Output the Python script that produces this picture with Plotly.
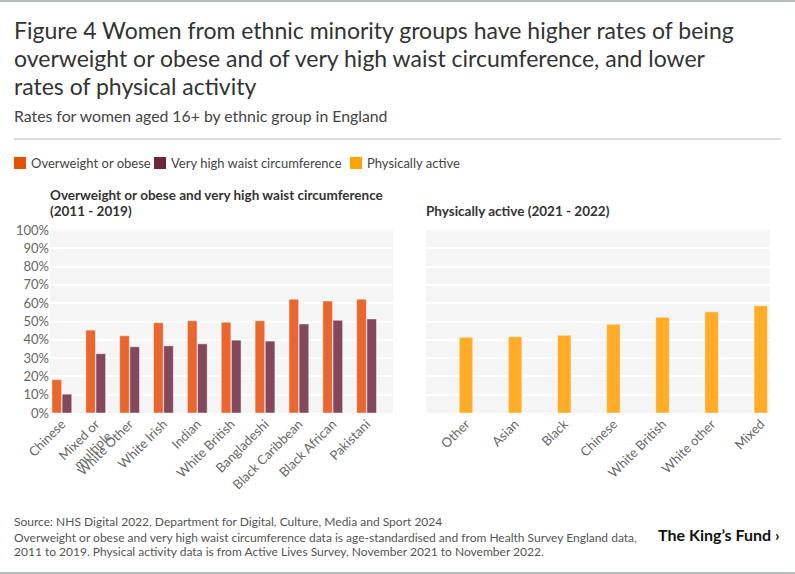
import plotly.graph_objects as go

W, H = 795, 574

# left panel: overweight / waist circumference (2011 - 2019)
groups_left = ['Chinese', 'Mixed or<br>multiple', 'White Other', 'White Irish', 'Indian',
               'White British', 'Bangladeshi', 'Black Caribbean', 'Black African', 'Pakistani']
overweight = [18.2, 45.3, 42.2, 49.3, 50.4, 49.6, 50.4, 62.2, 61.2, 62.2]
waist = [10.3, 32.4, 36.2, 36.7, 37.8, 39.8, 39.3, 48.6, 50.7, 51.4]

# right panel: physically active (2021 - 2022)
groups_right = ['Other', 'Asian', 'Black', 'Chinese', 'White British', 'White other', 'Mixed']
active = [41.4, 41.7, 42.5, 48.5, 52.3, 55.3, 58.6]

yticks = list(range(0, 101, 10))
ytick_labels = [f'{v}%' for v in yticks]

legend_names = ['Overweight or obese', 'Very high waist circumference', 'Physically active']
legend_colors = ['#e35205', '#6e2639', '#ffa300']

FONT = "Source Sans Pro, Lato, sans-serif"


def px(x):
    return x / W


def py(y):
    return 1 - y / H


fig = go.Figure()

fig.add_trace(go.Bar(
    x=groups_left, y=overweight, name=legend_names[0],
    marker=dict(color='#e9662e', line=dict(color='rgba(255,255,255,0.45)', width=1)),
    xaxis='x', yaxis='y'
))
fig.add_trace(go.Bar(
    x=groups_left, y=waist, name=legend_names[1],
    marker=dict(color='#84475c', line=dict(color='rgba(255,255,255,0.45)', width=1)),
    xaxis='x', yaxis='y'
))
fig.add_trace(go.Bar(
    x=groups_right, y=active, name=legend_names[2], width=0.275,
    marker=dict(color='#ffac28', line=dict(color='rgba(255,255,255,0.45)', width=1)),
    xaxis='x2', yaxis='y2'
))

axis_font = dict(family=FONT, size=13, color='#666666')

fig.update_layout(
    width=W, height=H,
    margin=dict(l=0, r=0, t=0, b=0, autoexpand=False),
    paper_bgcolor='white',
    plot_bgcolor='#f5f5f5',
    font=dict(family=FONT, color='#333333'),
    barmode='group', bargap=0.4, bargroupgap=0.05,
    showlegend=False,
    xaxis=dict(domain=[px(50), px(393)], range=[-0.35, 9.78], tickangle=-45,
               tickfont=axis_font, showgrid=False, showline=False, ticks='', automargin=False),
    yaxis=dict(domain=[py(413), py(230)], range=[0, 100], tickvals=yticks, ticktext=ytick_labels,
               tickfont=axis_font, gridcolor='white', gridwidth=2,
               zeroline=False, showline=False, anchor='x', automargin=False),
    xaxis2=dict(domain=[px(426), px(770)], range=[-0.814, 6.187], tickangle=-45,
                tickfont=axis_font, showgrid=False, showline=False, ticks='', anchor='y2',
                automargin=False),
    yaxis2=dict(domain=[py(413), py(230)], range=[0, 100], tickvals=yticks,
                showticklabels=False, gridcolor='white', gridwidth=2,
                zeroline=False, showline=False, anchor='x2', automargin=False),
)


def note(text, x, y, size, color='#333333', bold=False, xanchor='left'):
    if bold:
        text = '<b>' + text + '</b>'
    fig.add_annotation(text=text, x=px(x), y=py(y), xref='paper', yref='paper',
                       xanchor=xanchor, yanchor='middle', showarrow=False,
                       font=dict(family=FONT, size=size, color=color))


title_lines = [
    'Figure 4 Women from ethnic minority groups have higher rates of being',
    'overweight or obese and of very high waist circumference, and lower',
    'rates of physical activity',
]
for i, line in enumerate(title_lines):
    note(line, 12, 30 + i * 28, 23)

note('Rates for women aged 16+ by ethnic group in England', 12, 115, 15.8, '#444444')

# legend row
legend_x = [14, 154, 350]
for name, color, lx in zip(legend_names, legend_colors, legend_x):
    fig.add_shape(type='rect', xref='paper', yref='paper', x0=px(lx), x1=px(lx + 12),
                  y0=py(169), y1=py(157), fillcolor=color, line=dict(width=0))
    note(name, lx + 15, 163, 13, '#444444')

note('Overweight or obese and very high waist circumference', 48, 195, 13.5, '#333333', True)
note('(2011 - 2019)', 48, 211, 13.5, '#333333', True)
note('Physically active (2021 - 2022)', 424, 211, 13.5, '#333333', True)

note('Source: NHS Digital 2022, Department for Digital, Culture, Media and Sport 2024', 12, 521, 12, '#555555')
note('Overweight or obese and very high waist circumference data is age-standardised and from Health Survey England data,',
     12, 537, 12, '#555555')
note('2011 to 2019. Physical activity data is from Active Lives Survey, November 2021 to November 2022.',
     12, 551, 12, '#555555')
note('The King’s Fund ›', 782, 534, 16, '#111111', True, 'right')

# rules
fig.add_shape(type='line', xref='paper', yref='paper', x0=0, x1=1, y0=py(1), y1=py(1),
              line=dict(color='#b5bcbc', width=2))
fig.add_shape(type='line', xref='paper', yref='paper', x0=px(14), x1=px(781), y0=py(139), y1=py(139),
              line=dict(color='#b5bcbc', width=1))
fig.add_shape(type='line', xref='paper', yref='paper', x0=0, x1=1, y0=py(573), y1=py(573),
              line=dict(color='#b5bcbc', width=2))

fig.write_html("out.html", config={'displayModeBar': False},
               post_script="document.body.style.margin='0';")
